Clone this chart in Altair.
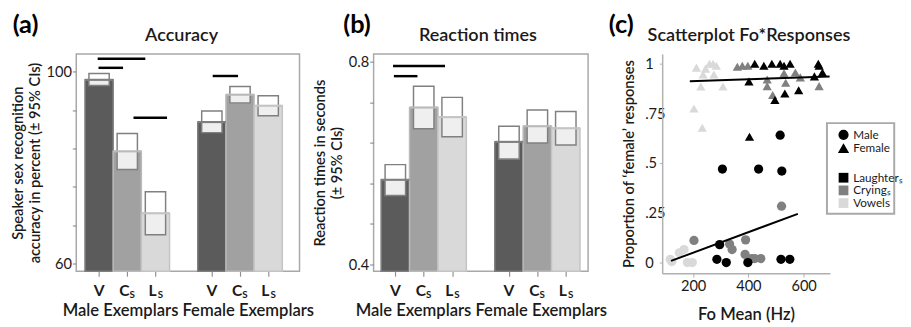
import altair as alt
import pandas as pd

FONT = "Lato"
TXT = "#1a1a1a"

# ---------------- panels (a) and (b): categories ----------------
cond = ["V", "C", "L", "V", "C", "L"]
sub = ["", "S", "S", "", "S", "S"]
pos = [0, 1, 2, 4, 5, 6]

# (a) accuracy in percent
acc_mean = [98.3, 83.4, 70.5, 89.5, 95.2, 92.9]
acc_hi = [99.6, 87.1, 75.0, 91.8, 96.9, 95.0]
acc_lo = [97.1, 79.6, 66.0, 87.3, 93.5, 90.8]
acc_sig_x1 = [-0.05, -0.02, 1.22, 4.03]
acc_sig_x2 = [1.64, 0.85, 2.41, 4.93]
acc_sig_y = [102.7, 100.8, 90.4, 99.1]
acc_ticks = [60, 64, 68, 72, 76, 80, 84, 88, 92, 96, 100]

# (b) reaction times in seconds
rt_mean = [0.567, 0.710, 0.691, 0.642, 0.673, 0.669]
rt_hi = [0.597, 0.752, 0.730, 0.673, 0.705, 0.702]
rt_lo = [0.536, 0.668, 0.652, 0.608, 0.640, 0.636]
rt_sig_x1 = [-0.08, -0.05]
rt_sig_x2 = [1.75, 0.78]
rt_sig_y = [0.792, 0.772]
rt_ticks = [0.40, 0.44, 0.48, 0.52, 0.56, 0.60, 0.64, 0.68, 0.72, 0.76, 0.80]

fill_range = ["#5b5b5b", "#a1a1a1", "#d9d9d9"]
stroke_range = ["#7f7f7f", "#bababa", "#c4c4c4"]

# ---------------- panel (c): scatter ----------------
vow_m_hz = [117, 123, 150, 167, 179, 197]
vow_m_p = [0.016, 0.005, 0.049, 0.065, 0.0, 0.0]
cry_m_hz = [203, 332, 341, 390, 388, 412, 423, 445, 520]
cry_m_p = [0.111, 0.093, 0.065, 0.114, 0.041, 0.02, 0.02, 0.02, 0.283]
lau_m_hz = [515, 306, 437, 521, 296, 286, 320, 398, 518, 550]
lau_m_p = [0.64, 0.47, 0.47, 0.46, 0.09, 0.016, 0.0, 0.0, 0.016, 0.016]

vow_f_hz = [212, 245, 259, 272, 284, 236, 275, 228, 308, 203, 233]
vow_f_p = [0.98, 0.975, 1.0, 1.0, 0.99, 0.945, 0.945, 0.885, 0.885, 0.775, 0.678]
cry_f_hz = [360, 378, 398, 529, 570, 588, 468, 535, 468, 488, 656]
cry_f_p = [0.985, 0.99, 0.99, 0.952, 0.956, 0.931, 0.92, 0.904, 0.887, 0.842, 0.887]
lau_f_hz = [423, 456, 485, 515, 529, 551, 653, 656, 668, 639, 402, 582, 532, 496, 404]
lau_f_p = [1.0, 0.99, 1.0, 1.0, 0.99, 1.0, 1.0, 0.99, 0.956, 0.936, 0.91, 0.866, 0.85, 0.817, 0.632]

fit_m_hz = [120, 579]
fit_m_p = [0.008, 0.245]
fit_f_hz = [188, 694]
fit_f_p = [0.912, 0.935]

sex_order = ["Male", "Female"]
type_order = ["Laughter", "Crying", "Vowels"]
type_colors = ["#000000", "#808080", "#d9d9d9"]


def text_layer(label, size, weight, x, y):
    return alt.Chart(pd.DataFrame({"t": [label]})).mark_text(
        font=FONT, fontSize=size, fontWeight=weight, color="black" if size > 20 else TXT,
        baseline="middle", align="center"
    ).encode(text="t:N", x=alt.value(x), y=alt.value(y))


def bar_panel(mean, lo, hi, sx1, sx2, sy, ydom, yticks, label_expr, ytitle,
              title, title_x, letter, letter_x, W, H, xdom):
    df = pd.DataFrame({"pos": pos, "cond": cond, "sub": sub,
                       "mean": mean, "lo": lo, "hi": hi})
    sig = pd.DataFrame({"sx1": sx1, "sx2": sx2, "sy": sy})
    xs = alt.Scale(domain=xdom, nice=False, zero=False)
    ys = alt.Scale(domain=ydom, nice=False, zero=False)
    fsc = alt.Scale(domain=["V", "C", "L"], range=fill_range)
    ssc = alt.Scale(domain=["V", "C", "L"], range=stroke_range)

    base = alt.Chart(df).transform_calculate(
        x1="datum.pos - 0.5", x2="datum.pos + 0.5",
        b1="datum.pos - 0.36", b2="datum.pos + 0.36")

    bars = base.mark_rect(strokeWidth=1.5).encode(
        x=alt.X("x1:Q", scale=xs, axis=alt.Axis(
            values=pos, labels=False, ticks=True, tickSize=5, tickColor="#909090",
            tickWidth=1.2, domain=False, grid=False,
            title="Male Exemplars Female Exemplars", titleFont=FONT,
            titleFontSize=17, titleFontWeight=600, titleColor=TXT,
            titlePadding=27)),
        x2="x2:Q",
        y=alt.Y("mean:Q", scale=ys, axis=alt.Axis(
            values=yticks, labelExpr=label_expr, tickSize=4, tickColor="#909090",
            tickWidth=1.2, domain=False, grid=False, labelFont=FONT,
            labelFontSize=15, labelColor=TXT, labelPadding=1, title=ytitle,
            titleFont=FONT, titleFontSize=15, titleFontWeight=600,
            titleColor=TXT, titlePadding=4, titleLineHeight=17)),
        y2=alt.datum(ydom[0]),
        fill=alt.Fill("cond:N", scale=fsc, legend=None),
        stroke=alt.Stroke("cond:N", scale=ssc, legend=None),
    )
    box_white = base.mark_rect(fill="white").encode(
        x="b1:Q", x2="b2:Q", y="lo:Q", y2="hi:Q")
    box_low = base.mark_rect(fill="#efefef").encode(
        x="b1:Q", x2="b2:Q", y="lo:Q", y2="mean:Q")
    box_line = base.mark_rect(fillOpacity=0, stroke="#808080", strokeWidth=1.5).encode(
        x="b1:Q", x2="b2:Q", y="lo:Q", y2="hi:Q")
    mean_line = base.mark_rule(strokeWidth=2.2).encode(
        x="x1:Q", x2="x2:Q", y="mean:Q",
        stroke=alt.Stroke("cond:N", scale=ssc, legend=None))
    sig_lines = alt.Chart(sig).mark_rule(color="black", strokeWidth=2.5).encode(
        x="sx1:Q", x2="sx2:Q", y="sy:Q")

    lab_main_v = alt.Chart(df).transform_filter("datum.sub == ''").mark_text(
        font=FONT, fontSize=16, fontWeight="bold", color=TXT, baseline="middle"
    ).encode(x="pos:Q", y=alt.value(H + 20), text="cond:N")
    lab_main_s = alt.Chart(df).transform_filter("datum.sub != ''").mark_text(
        font=FONT, fontSize=16, fontWeight="bold", color=TXT, baseline="middle", dx=-3
    ).encode(x="pos:Q", y=alt.value(H + 20), text="cond:N")
    lab_sub = alt.Chart(df).transform_filter("datum.sub != ''").mark_text(
        font=FONT, fontSize=10, fontWeight="bold", color=TXT, baseline="middle", dx=5, dy=4
    ).encode(x="pos:Q", y=alt.value(H + 20), text="sub:N")

    title_txt = text_layer(title, 18.5, 600, title_x, -19)
    letter_txt = text_layer(letter, 26, "bold", letter_x, -29)

    return alt.layer(bars, box_white, box_low, box_line, mean_line, sig_lines,
                     lab_main_v, lab_main_s, lab_sub, title_txt, letter_txt).properties(
        width=W, height=H,
        view=alt.ViewBackground(stroke="#a8a8a8", strokeWidth=1.5),
    )


panel_a = bar_panel(acc_mean, acc_lo, acc_hi, acc_sig_x1, acc_sig_x2, acc_sig_y,
                    [58.4, 103.7], acc_ticks, "datum.value % 20 == 0 ? datum.label : ''",
                    ["Speaker sex recognition", "accuracy in percent (\u00b1 95% CIs)"],
                    "Accuracy", 108, "(a)", -52, 229, 223, [-0.81, 7.11])

panel_b = bar_panel(rt_mean, rt_lo, rt_hi, rt_sig_x1, rt_sig_x2, rt_sig_y,
                    [0.386, 0.816], rt_ticks,
                    "abs(datum.value*5 - round(datum.value*5)) < 0.001 ? format(datum.value, '.1f') : ''",
                    ["Reaction times in seconds", "(\u00b1 95% CIs)"],
                    "Reaction times", 107, "(b)", -17, 220, 223, [-0.764, 6.785])

# ---------------- scatter ----------------
rows = []
for hz, p, sx, ty in [
    (vow_m_hz, vow_m_p, "Male", "Vowels"), (vow_f_hz, vow_f_p, "Female", "Vowels"),
    (cry_m_hz, cry_m_p, "Male", "Crying"), (cry_f_hz, cry_f_p, "Female", "Crying"),
    (lau_m_hz, lau_m_p, "Male", "Laughter"), (lau_f_hz, lau_f_p, "Female", "Laughter"),
]:
    for h, v in zip(hz, p):
        rows.append({"hz": h, "p": v, "sex": sx, "type": ty})
sc = pd.DataFrame(rows)
fits = pd.DataFrame({
    "hz": fit_m_hz + fit_f_hz,
    "p": fit_m_p + fit_f_p,
    "grp": ["m", "m", "f", "f"],
})

xs_c = alt.Scale(domain=[88, 695], nice=False, zero=False)
ys_c = alt.Scale(domain=[-0.054, 1.049], nice=False, zero=False)

pts = alt.Chart(sc).mark_point(filled=True, size=90, opacity=1).encode(
    x=alt.X("hz:Q", scale=xs_c, axis=alt.Axis(
        values=[200, 400, 600], grid=False, domainColor="#b0b0b0", domainWidth=1.5,
        tickColor="#b0b0b0", tickSize=4, labelFont=FONT, labelFontSize=15,
        labelColor=TXT, labelPadding=2, title="Fo Mean (Hz)", titleFont=FONT,
        titleFontSize=17, titleFontWeight=600, titleColor=TXT, titlePadding=13)),
    y=alt.Y("p:Q", scale=ys_c, axis=alt.Axis(
        values=[0, 0.25, 0.5, 0.75, 1], grid=False, domainColor="#b0b0b0",
        domainWidth=1.5, tickColor="#b0b0b0", tickSize=3,
        labelExpr="replace(format(datum.value, '.2~f'), '0.', '.')",
        labelAlign="left", labelPadding=15, labelFont=FONT, labelFontSize=15,
        labelColor=TXT, title="Proportion of \u2018female\u2019 responses",
        titleFont=FONT, titleFontSize=15, titleFontWeight=600, titleColor=TXT,
        titlePadding=8)),
    shape=alt.Shape("sex:N", scale=alt.Scale(domain=sex_order, range=["circle", "triangle-up"]),
                    legend=alt.Legend(orient="none", legendX=180, legendY=77, title=None,
                                      symbolFillColor="black", symbolStrokeColor="black",
                                      symbolSize=80, labelFont=FONT, labelFontSize=12,
                                      labelColor=TXT, rowPadding=-4, labelOffset=4,
                                      padding=0)),
    color=alt.Color("type:N", scale=alt.Scale(domain=type_order, range=type_colors),
                    legend=alt.Legend(orient="none", legendX=180, legendY=121, title=None,
                                      symbolType="square", symbolSize=100,
                                      symbolStrokeWidth=0, padding=0,
                                      labelFont=FONT, labelFontSize=12, labelColor=TXT,
                                      rowPadding=1, labelOffset=4,
                                      labelExpr="datum.label == 'Vowels' ? 'Vowels' : datum.label + '\u209b'")),
)
fit_lines = alt.Chart(fits).mark_line(color="black", strokeWidth=2).encode(
    x="hz:Q", y="p:Q", detail="grp:N")
legend_box = alt.Chart(pd.DataFrame({"k": [0]})).mark_rect(
    fillOpacity=0, stroke="#a9a9a9", strokeWidth=2).encode(
    x=alt.value(169), x2=alt.value(238), y=alt.value(71), y2=alt.value(164))

panel_c = alt.layer(pts, fit_lines, legend_box,
                    text_layer("Scatterplot Fo*Responses", 18.5, 600, 89, -19),
                    text_layer("(c)", 26, "bold", -42, -29)).properties(
    width=172, height=225,
    view=alt.ViewBackground(strokeWidth=0),
)

chart = alt.hconcat(panel_a, panel_b, panel_c, spacing=76, bounds="flush").resolve_scale(
    x="independent", y="independent", fill="independent", stroke="independent",
    color="independent", shape="independent"
).properties(padding={"left": 2, "top": 0, "right": 0, "bottom": 0}).configure_view(
    stroke="transparent")

chart.save("out.html", embed_options={"renderer": "svg", "actions": False})
